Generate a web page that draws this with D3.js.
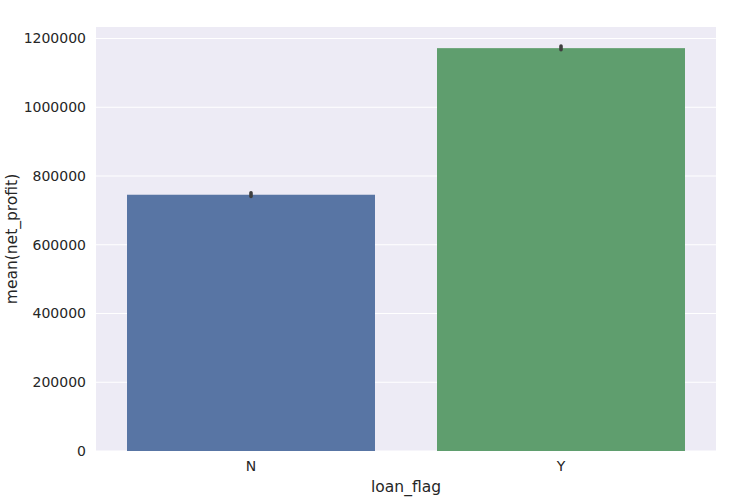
<!DOCTYPE html>
<html>
<head>
<meta charset="utf-8">
<script src="https://cdn.jsdelivr.net/npm/d3@7"></script>
<style>
  body { margin: 0; background: #fff; }
  text { font-family: "DejaVu Sans", sans-serif; fill: #262626; }
</style>
</head>
<body>
<svg id="chart" width="731" height="501"></svg>
<script>
const categories = ["N", "Y"];
const means = [745500, 1172000];
const ciLow = [740500, 1167500];
const ciHigh = [751500, 1178000];
const yTicks = [0, 200000, 400000, 600000, 800000, 1000000, 1200000];
const colors = ["#5875a4", "#5f9e6e"];

const svg = d3.select("#chart");
const marge = {top: 27, right: 15, bottom: 50, left: 96};
const width = 731 - marge.left - marge.right,
      height = 501 - marge.top - marge.bottom;

const g = svg.append("g").attr("transform", `translate(${marge.left},${marge.top})`);

const x = d3.scaleBand().domain(categories).range([0, width]).paddingInner(0.2).paddingOuter(0.1);
const y = d3.scaleLinear().domain([0, 1233500]).range([height, 0]);

g.append("rect").attr("width", width).attr("height", height).attr("fill", "#edebf5");

// grid
g.append("g").selectAll("line").data(yTicks).join("line")
    .attr("x1", 0).attr("x2", width)
    .attr("y1", d => y(d)).attr("y2", d => y(d))
    .attr("stroke", "#fff").attr("stroke-width", 1);

// bars
g.append("g").selectAll("rect").data(categories).join("rect")
    .attr("x", d => x(d))
    .attr("width", x.bandwidth())
    .attr("y", (d, i) => y(means[i]))
    .attr("height", (d, i) => height - y(means[i]))
    .attr("fill", (d, i) => colors[i]);

// error bars
g.append("g").selectAll("line").data(categories).join("line")
    .attr("x1", d => x(d) + x.bandwidth() / 2)
    .attr("x2", d => x(d) + x.bandwidth() / 2)
    .attr("y1", (d, i) => y(ciLow[i]))
    .attr("y2", (d, i) => y(ciHigh[i]))
    .attr("stroke", "#3f3f3f").attr("stroke-width", 3.6)
    .attr("stroke-linecap", "round");

// y axis
const yAxis = g.append("g").call(d3.axisLeft(y).tickValues(yTicks).tickSize(0).tickPadding(10).tickFormat(d3.format("d")));
yAxis.select(".domain").remove();
yAxis.selectAll("text").attr("font-size", 14).attr("fill", "#262626");

// x axis
const xAxis = g.append("g").attr("transform", `translate(0,${height})`)
    .call(d3.axisBottom(x).tickSize(0).tickPadding(10));
xAxis.select(".domain").remove();
xAxis.selectAll("text").attr("font-size", 14).attr("fill", "#262626");

svg.append("text")
    .attr("x", marge.left + width / 2).attr("y", 492)
    .attr("text-anchor", "middle").attr("font-size", 15.5)
    .text("loan_flag");

svg.append("text")
    .attr("transform", `translate(17,${marge.top + height / 2}) rotate(-90)`)
    .attr("text-anchor", "middle").attr("font-size", 15.5)
    .text("mean(net_profit)");
</script>
</body>
</html>
